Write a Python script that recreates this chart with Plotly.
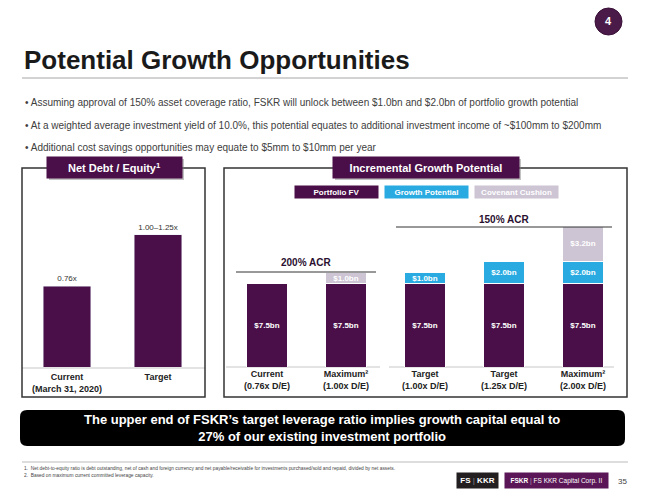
import plotly.graph_objects as go

W, H = 650, 502
FONT = "Liberation Sans, Arial, sans-serif"
PURPLE = "#4a0f48"
CYAN = "#29abe2"
LILAC = "#cdc4d4"

# ---------------- data ----------------
nde_categories = ["<b>Current</b><br><b>(March 31, 2020)</b>", "<b>Target</b>"]
nde_values = [0.76, 1.25]
nde_labels = ["0.76x", "1.00–1.25x"]

growth_categories = [
    "<b>Current</b><br><b>(0.76x D/E)</b>",
    "<b>Maximum²</b><br><b>(1.00x D/E)</b>",
    "<b>Target</b><br><b>(1.00x D/E)</b>",
    "<b>Target</b><br><b>(1.25x D/E)</b>",
    "<b>Maximum²</b><br><b>(2.00x D/E)</b>",
]
portfolio_fv = [7.5, 7.5, 7.5, 7.5, 7.5]
growth_potential = [None, None, 1.0, 2.0, 2.0]
covenant_cushion = [None, 1.0, None, None, 3.2]

bullets = [
    "Assuming approval of 150% asset coverage ratio, FSKR will unlock between $1.0bn and $2.0bn of portfolio growth potential",
    "At a weighted average investment yield of 10.0%, this potential equates to additional investment income of ~$100mm to $200mm",
    "Additional cost savings opportunities may equate to $5mm to $10mm per year",
]
footnotes = [
    "1.  Net debt-to-equity ratio is debt outstanding, net of cash and foreign currency and net payable/receivable for investments purchased/sold and repaid, divided by net assets.",
    "2.  Based on maximum current committed leverage capacity.",
]


def px(x):
    return x / W


def py(y):
    return 1 - y / H


def fmt(v):
    return "" if v is None else "$%.1fbn" % v


def note(x, y, text, size, color="#222222", xanchor="center", **kw):
    d = dict(x=px(x), y=py(y), xref="paper", yref="paper", xanchor=xanchor, yanchor="middle",
             text=text, showarrow=False, font=dict(size=size, color=color, family=FONT))
    d.update(kw)
    return d


fig = go.Figure()

# left chart
fig.add_trace(go.Bar(
    x=list(range(len(nde_values))), y=nde_values, text=nde_labels,
    textposition="outside", textfont=dict(size=8, color="#333333", family=FONT),
    marker=dict(color=PURPLE), width=0.52, cliponaxis=False,
    xaxis="x", yaxis="y", showlegend=False, hoverinfo="skip",
))

# right chart (stacked)
xs = list(range(len(growth_categories)))
for name, vals, col in [("Portfolio FV", portfolio_fv, PURPLE),
                        ("Growth Potential", growth_potential, CYAN),
                        ("Covenant Cushion", covenant_cushion, LILAC)]:
    fig.add_trace(go.Bar(
        x=xs, y=vals, name=name, text=[fmt(v) for v in vals],
        textposition="inside", insidetextanchor="middle", textangle=0,
        constraintext="none",
        textfont=dict(size=8, color="white", family=FONT, weight="bold"),
        marker=dict(color=col, line=dict(color="white", width=1)), width=0.53,
        xaxis="x2", yaxis="y2", showlegend=False, hoverinfo="skip",
    ))

shapes = []
ann = []

# title, line, badge
ann.append(note(22, 60, "<b>Potential Growth Opportunities</b>", 26, "#1a1a1a", xanchor="left"))
shapes.append(dict(type="line", xref="paper", yref="paper", x0=px(22), x1=px(628), y0=py(78), y1=py(78),
                   line=dict(color="#a6a6a6", width=1)))
shapes.append(dict(type="circle", xref="paper", yref="paper", x0=px(595), x1=px(622), y0=py(8), y1=py(35),
                   fillcolor="#4a1a48", line=dict(color="#3a1038", width=1)))
ann.append(note(608.5, 21.5, "<b>4</b>", 11, "white"))

# bullets
for i, b in enumerate(bullets):
    ann.append(note(23, 102 + 23 * i, "• " + b, 10, "#404040", xanchor="left"))

# panels
for (x0, x1, y0, y1) in [(22, 205, 168, 397), (224, 627, 168, 397)]:
    shapes.append(dict(type="rect", xref="paper", yref="paper", x0=px(x0), x1=px(x1), y0=py(y0), y1=py(y1),
                       line=dict(color="#333333", width=1.5), fillcolor="rgba(0,0,0,0)"))

# headers
for (x0, x1, txt) in [(47, 182, "<b>Net Debt / Equity<sup>1</sup></b>"), (333, 519, "<b>Incremental Growth Potential</b>")]:
    shapes.append(dict(type="rect", xref="paper", yref="paper", x0=px(x0 + 2), x1=px(x1 + 2), y0=py(159), y1=py(180),
                       line=dict(width=0), fillcolor="rgba(120,120,120,0.45)"))
    ann.append(note((x0 + x1) / 2, 167.5, txt, 11, "white",
                    bgcolor=PURPLE, width=x1 - x0, height=21, borderpad=0))

# legend chips
for (x0, x1, txt, col) in [(295, 378, "Portfolio FV", PURPLE), (385, 468, "Growth Potential", CYAN),
                           (475, 558, "Covenant Cushion", LILAC)]:
    ann.append(note((x0 + x1) / 2, 192, "<b>%s</b>" % txt, 8, "white",
                    bgcolor=col, width=x1 - x0, height=12, borderpad=0))

# ACR brackets
for (x0, x1, yl, yt, txt) in [(236, 376, 272, 262, "200% ACR"), (396, 612, 227, 219, "150% ACR")]:
    shapes.append(dict(type="line", xref="paper", yref="paper", x0=px(x0), x1=px(x1), y0=py(yl), y1=py(yl),
                       line=dict(color="#333333", width=1)))
    ann.append(note((x0 + x1) / 2, yt, "<b>%s</b>" % txt, 10, "#2a1030"))

# right chart baselines
for (x0, x1) in [(226, 380), (389, 614)]:
    shapes.append(dict(type="line", xref="paper", yref="paper", x0=px(x0), x1=px(x1), y0=py(367), y1=py(367),
                       line=dict(color="#e3e3e3", width=2), layer="below"))

# callout
cx0, cx1, cy0, cy1, r = px(20), px(625), py(410), py(446), 7
rx, ry = r / W, r / H
path = (f"M {cx0+rx},{cy0} L {cx1-rx},{cy0} Q {cx1},{cy0} {cx1},{cy0-ry} L {cx1},{cy1+ry} "
        f"Q {cx1},{cy1} {cx1-rx},{cy1} L {cx0+rx},{cy1} Q {cx0},{cy1} {cx0},{cy1+ry} "
        f"L {cx0},{cy0-ry} Q {cx0},{cy0} {cx0+rx},{cy0} Z")
shapes.append(dict(type="path", xref="paper", yref="paper", path=path, fillcolor="black", line=dict(width=0)))
ann.append(note(322, 428,
                "<b>The upper end of FSKR’s target leverage ratio implies growth capital equal to<br>27% of our existing investment portfolio</b>",
                13, "white"))

# footnotes
shapes.append(dict(type="line", xref="paper", yref="paper", x0=px(22), x1=px(628), y0=py(462), y1=py(462),
                   line=dict(color="#bbbbbb", width=1)))
for i, f in enumerate(footnotes):
    ann.append(note(22, 468 + 7 * i, f, 4.85, "#444444", xanchor="left"))

# logos
ann.append(note(477.5, 480.5, "<b>FS</b> <span style='color:#888'>|</span> <b>KKR</b>", 8, "white",
                bgcolor="#231f20", width=41, height=15, borderpad=0))
ann.append(note(556.5, 480.5, "<b>FSKR</b> <span style='color:#b99ab5'>|</span> FS KKR Capital Corp. II", 6.5, "white",
                bgcolor="#5a1656", width=103, height=15, borderpad=0))
ann.append(note(622, 481, "35", 8, "#444444"))

# axes geometry
l_x0, l_x1 = 22, 205
l_c0, l_step = 67, 91
r_x0, r_x1 = 224, 627
r_c0, r_step = 267, 79
base, top = 367, 200
left_scale = 106.0   # px per 1.0x
right_scale = 11.1   # px per $1bn

fig.update_layout(
    width=W, height=H, margin=dict(l=0, r=0, t=0, b=0),
    paper_bgcolor="white", plot_bgcolor="white", barmode="stack",
    font=dict(family=FONT),
    xaxis=dict(domain=[px(l_x0), px(l_x1)],
               range=[(l_x0 - l_c0) / l_step, (l_x1 - l_c0) / l_step],
               tickvals=[0, 1], ticktext=nde_categories, ticks="", showgrid=False, zeroline=False,
               showline=True, linecolor="#e3e3e3", linewidth=2,
               tickfont=dict(size=9, color="#222222", family=FONT), fixedrange=True),
    yaxis=dict(domain=[py(base), py(top)], range=[0, (base - top) / left_scale], visible=False),
    xaxis2=dict(domain=[px(r_x0), px(r_x1)],
                range=[(r_x0 - r_c0) / r_step, (r_x1 - r_c0) / r_step],
                tickvals=xs, ticktext=growth_categories, ticks="", showgrid=False, zeroline=False,
                showline=False, anchor="y2",
                tickfont=dict(size=9, color="#222222", family=FONT)),
    yaxis2=dict(domain=[py(base), py(top)], range=[0, (base - top) / right_scale], visible=False,
                anchor="x2"),
    shapes=shapes, annotations=ann,
)

fig.write_html("out.html")
